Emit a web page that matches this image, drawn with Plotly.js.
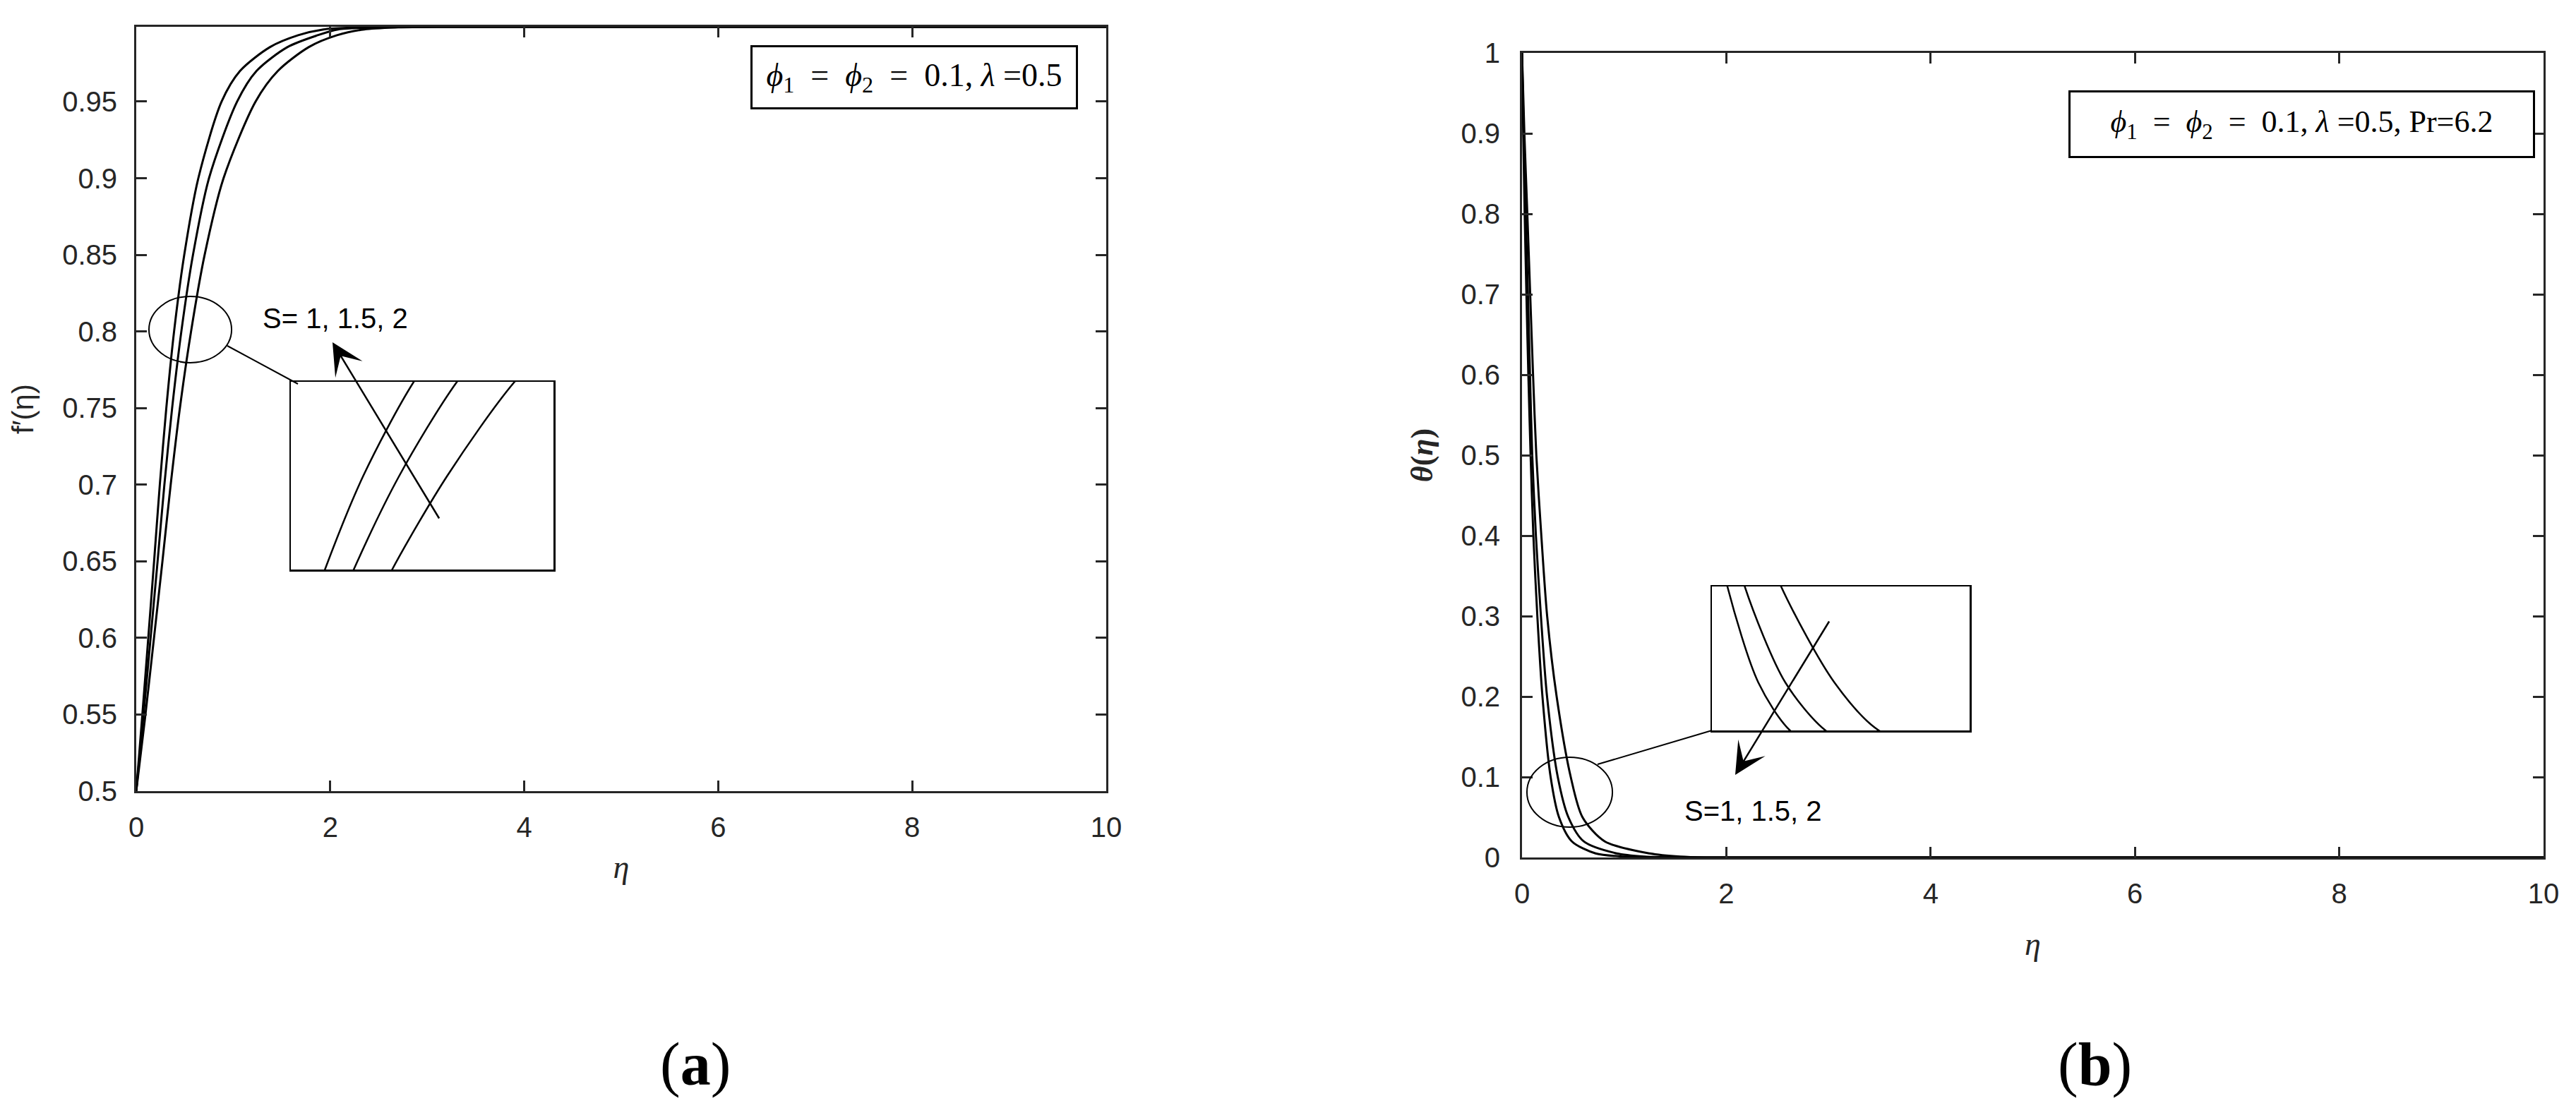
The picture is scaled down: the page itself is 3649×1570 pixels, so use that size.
<!DOCTYPE html>
<html>
<head>
<meta charset="utf-8">
<script src="https://cdn.plot.ly/plotly-3.0.1.min.js"></script>
<style>html,body{margin:0;padding:0;background:#fff;}#chart{width:3649px;height:1570px;}</style>
</head>
<body>
<div id="chart"></div>
<script>
// ---------- DATA ----------
// Panel (a): velocity profiles f'(eta)
const seriesNames = ["S = 1", "S = 1.5", "S = 2"];
const fLevels = [0.5, 0.55, 0.6, 0.65, 0.7, 0.75, 0.8, 0.85, 0.9, 0.95, 0.97, 0.9856, 0.9933, 0.9971, 0.9984, 0.9988, 0.9988];
const etaF_S1  = [0, 0.095, 0.183, 0.27, 0.355, 0.45, 0.565, 0.705, 0.90, 1.23, 1.46, 1.78, 2.07, 2.35, 2.7, 3.1, 10];
const etaF_S15 = [0, 0.075, 0.148, 0.22, 0.29, 0.37, 0.465, 0.585, 0.75, 1.04, 1.24, 1.56, 1.87, 2.08, 2.45, 2.85, 10];
const etaF_S2  = [0, 0.063, 0.124, 0.184, 0.243, 0.31, 0.39, 0.495, 0.64, 0.88, 1.07, 1.38, 1.67, 1.93, 2.3, 2.7, 10];

// Panel (b): temperature profiles theta(eta)
const thLevels = [1, 0.9, 0.8, 0.7, 0.6, 0.5, 0.4, 0.3, 0.2, 0.1, 0.05, 0.02, 0.005, 0.001, 0, 0];
const etaT_S1  = [0, 0.023, 0.052, 0.08, 0.108, 0.14, 0.189, 0.246, 0.339, 0.477, 0.592, 0.81, 1.25, 1.55, 1.8, 10];
const etaT_S15 = [0, 0.016, 0.036, 0.058, 0.078, 0.1, 0.136, 0.185, 0.245, 0.35, 0.454, 0.604, 0.926, 1.2, 1.5, 10];
const etaT_S2  = [0, 0.012, 0.026, 0.043, 0.062, 0.084, 0.111, 0.15, 0.2, 0.28, 0.362, 0.488, 0.72, 1.0, 1.3, 10];

// Tick labels
const xTicks = [0, 2, 4, 6, 8, 10];
const xTickText = ["0", "2", "4", "6", "8", "10"];
const yTicksA = [0.5, 0.55, 0.6, 0.65, 0.7, 0.75, 0.8, 0.85, 0.9, 0.95];
const yTickTextA = ["0.5", "0.55", "0.6", "0.65", "0.7", "0.75", "0.8", "0.85", "0.9", "0.95"];
const yTicksB = [0, 0.1, 0.2, 0.3, 0.4, 0.5, 0.6, 0.7, 0.8, 0.9, 1];
const yTickTextB = ["0", "0.1", "0.2", "0.3", "0.4", "0.5", "0.6", "0.7", "0.8", "0.9", "1"];

// Text
const sp = "\u00A0";
const eqs = sp + sp + "=" + sp + sp;
const boxTextA = "<i>ϕ</i><sub>1</sub>" + eqs + "<i>ϕ</i><sub>2</sub>" + eqs + "0.1," + sp + "<i>λ</i>" + sp + "=0.5";
const boxTextB = "<i>ϕ</i><sub>1</sub>" + eqs + "<i>ϕ</i><sub>2</sub>" + eqs + "0.1," + sp + "<i>λ</i>" + sp + "=0.5," + sp + "Pr=6.2";
const sLabelA = "S= 1, 1.5, 2";
const sLabelB = "S=1, 1.5, 2";

// ---------- LAYOUT HELPERS ----------
const W = 3649, H = 1570;
const px = x => x / W;
const py = y => 1 - y / H;

const sans = "Liberation Sans, Arial, Helvetica, sans-serif";
const serif = "Liberation Serif, Times New Roman, serif";
const axColor = "#262626";

function curve(x, y, xa, ya, name, w) {
  return {x: x, y: y, xaxis: xa, yaxis: ya, type: "scatter", mode: "lines", name: name,
          line: {color: "#000", width: w, shape: "spline", smoothing: 0.8}, showlegend: false, hoverinfo: "skip"};
}

const traces = [
  curve(etaF_S1, fLevels, "x", "y", seriesNames[0], 3),
  curve(etaF_S15, fLevels, "x", "y", seriesNames[1], 3),
  curve(etaF_S2, fLevels, "x", "y", seriesNames[2], 3),
  curve(etaT_S1, thLevels, "x2", "y2", seriesNames[0], 3),
  curve(etaT_S15, thLevels, "x2", "y2", seriesNames[1], 3),
  curve(etaT_S2, thLevels, "x2", "y2", seriesNames[2], 3),
  // magnified insets
  curve(etaF_S1, fLevels, "x3", "y3", seriesNames[0], 2.5),
  curve(etaF_S15, fLevels, "x3", "y3", seriesNames[1], 2.5),
  curve(etaF_S2, fLevels, "x3", "y3", seriesNames[2], 2.5),
  curve(etaT_S1, thLevels, "x4", "y4", seriesNames[0], 2.5),
  curve(etaT_S15, thLevels, "x4", "y4", seriesNames[1], 2.5),
  curve(etaT_S2, thLevels, "x4", "y4", seriesNames[2], 2.5)
];

function mainAxis(extra) {
  return Object.assign({
    showline: true, linecolor: axColor, linewidth: 3, mirror: "allticks",
    ticks: "inside", ticklen: 15, tickwidth: 3, tickcolor: axColor,
    showgrid: false, zeroline: false, tickmode: "array",
    tickfont: {family: sans, size: 40, color: axColor}
  }, extra);
}
function insetAxis(extra) {
  return Object.assign({
    showline: true, linecolor: "#000", linewidth: 2.5, mirror: true,
    ticks: "", showticklabels: false, showgrid: false, zeroline: false
  }, extra);
}

const layout = {
  width: W, height: H, autosize: false,
  margin: {l: 0, r: 0, t: 0, b: 0, pad: 0},
  paper_bgcolor: "#fff", plot_bgcolor: "#fff",
  showlegend: false,
  xaxis: mainAxis({domain: [px(193), px(1567)], anchor: "y", range: [0, 10],
    tickvals: xTicks, ticktext: xTickText, ticklabelstandoff: 14,
    title: {text: "<i>η</i>", font: {family: serif, size: 46, color: axColor}, standoff: 19}}),
  yaxis: mainAxis({domain: [py(1121), py(38)], anchor: "x", range: [0.5, 0.9988],
    tickvals: yTicksA, ticktext: yTickTextA, ticklabelstandoff: 16,
    title: {text: "f′(η)", font: {family: sans, size: 42, color: axColor}, standoff: 28}}),
  xaxis2: mainAxis({domain: [px(2156), px(3603)], anchor: "y2", range: [0, 10],
    tickvals: xTicks, ticktext: xTickText, ticklabelstandoff: 14,
    title: {text: "<i>η</i>", font: {family: serif, size: 46, color: axColor}, standoff: 34}}),
  yaxis2: mainAxis({domain: [py(1215), py(75)], anchor: "x2", range: [0, 1],
    tickvals: yTicksB, ticktext: yTickTextB, ticklabelstandoff: 20,
    title: {text: "<b><i>θ</i>(<i>η</i>)</b>", font: {family: serif, size: 44, color: axColor}, standoff: 26}}),
  xaxis3: insetAxis({domain: [px(412), px(784)], anchor: "y3", range: [0.239, 0.786]}),
  yaxis3: insetAxis({domain: [py(807), py(541)], anchor: "x3", range: [0.75, 0.85]}),
  xaxis4: insetAxis({domain: [px(2425), px(2790)], anchor: "y4", range: [0.16, 0.827]}),
  yaxis4: insetAxis({domain: [py(1035), py(831)], anchor: "x4", range: [0.05, 0.2]}),
  shapes: [
    // magnifier ellipses
    {type: "circle", xref: "x", yref: "y", x0: 0.131, x1: 0.983, y0: 0.7796, y1: 0.8229,
     line: {color: "#000", width: 2}},
    {type: "circle", xref: "x2", yref: "y2", x0: 0.048, x1: 0.885, y0: 0.0377, y1: 0.1246,
     line: {color: "#000", width: 2}},
    // connectors
    {type: "line", xref: "paper", yref: "paper", x0: px(322), y0: py(490), x1: px(422), y1: py(544),
     line: {color: "#000", width: 2}},
    {type: "line", xref: "paper", yref: "paper", x0: px(2263), y0: py(1083), x1: px(2425), y1: py(1035),
     line: {color: "#000", width: 2}}
  ],
  annotations: [
    {xref: "paper", yref: "paper", x: px(1295), y: py(109.5), xanchor: "center", yanchor: "middle",
     text: boxTextA, showarrow: false, font: {family: serif, size: 46, color: "#000"},
     bordercolor: "#000", borderwidth: 3, borderpad: 0, bgcolor: "#fff", width: 458, height: 85, align: "center"},
    {xref: "paper", yref: "paper", x: px(3260.5), y: py(176), xanchor: "center", yanchor: "middle",
     text: boxTextB, showarrow: false, font: {family: serif, size: 44, color: "#000"},
     bordercolor: "#000", borderwidth: 3, borderpad: 0, bgcolor: "#fff", width: 655, height: 90, align: "center"},
    {xref: "paper", yref: "paper", x: px(474.5), y: py(451), xanchor: "center", yanchor: "middle",
     text: sLabelA, showarrow: false, font: {family: sans, size: 40, color: "#000"}},
    {xref: "paper", yref: "paper", x: px(2483), y: py(1149), xanchor: "center", yanchor: "middle",
     text: sLabelB, showarrow: false, font: {family: sans, size: 40, color: "#000"}},
    // arrows
    {xref: "paper", yref: "paper", x: px(471), y: py(485), axref: "pixel", ayref: "pixel", ax: 152, ay: 251,
     text: "", showarrow: true, arrowhead: 3, arrowsize: 3, arrowwidth: 2.5, arrowcolor: "#000", standoff: 0},
    {xref: "paper", yref: "paper", x: px(2458), y: py(1098), axref: "pixel", ayref: "pixel", ax: 134, ay: -219,
     text: "", showarrow: true, arrowhead: 3, arrowsize: 3, arrowwidth: 2.5, arrowcolor: "#000", standoff: 0},
    // captions
    {xref: "paper", yref: "paper", x: px(985), y: py(1508), xanchor: "center", yanchor: "middle",
     text: "(<b>a</b>)", showarrow: false, font: {family: serif, size: 86, color: "#000"}},
    {xref: "paper", yref: "paper", x: px(2967), y: py(1508), xanchor: "center", yanchor: "middle",
     text: "(<b>b</b>)", showarrow: false, font: {family: serif, size: 86, color: "#000"}}
  ]
};

Plotly.newPlot("chart", traces, layout, {staticPlot: true, displayModeBar: false});
</script>
</body>
</html>
